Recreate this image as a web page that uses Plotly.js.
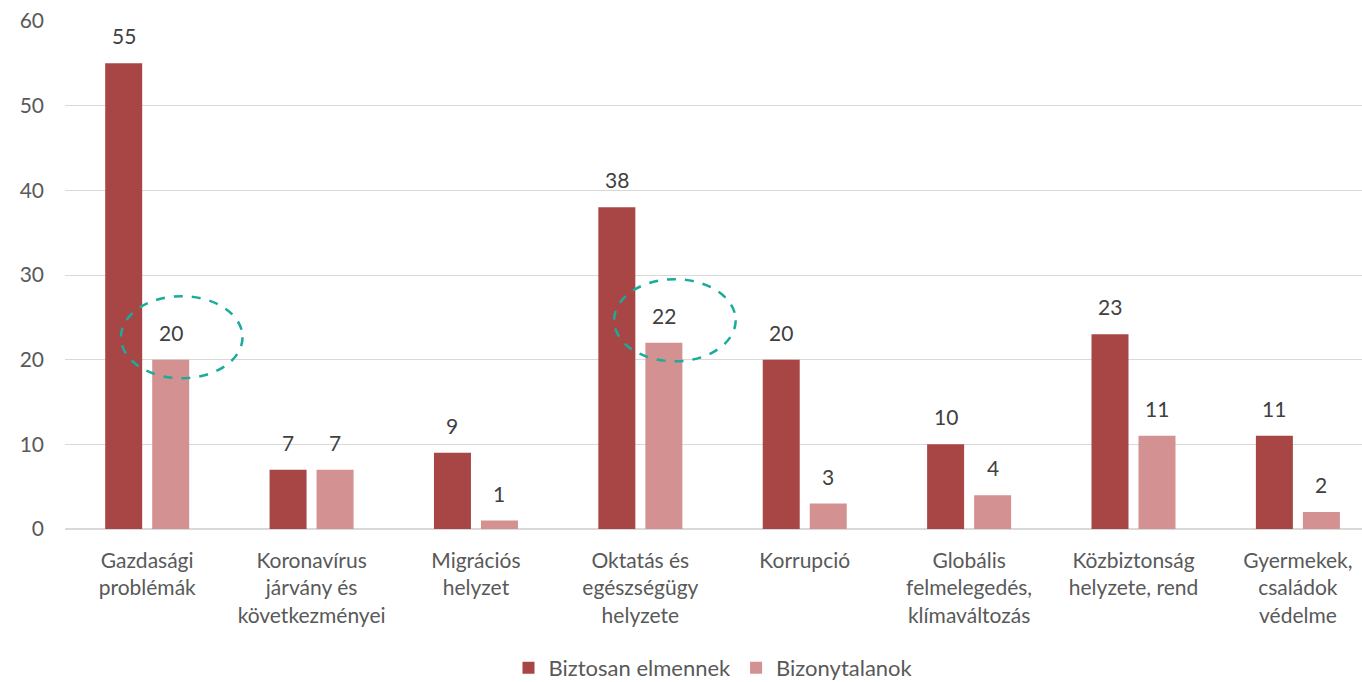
<!DOCTYPE html>
<html>
<head>
<meta charset="utf-8">
<script src="https://cdn.plot.ly/plotly-3.0.1.min.js"></script>
<style>html,body{margin:0;padding:0;background:#fff;}#chart{width:1362px;height:682px;}</style>
</head>
<body>
<div id="chart"></div>
<script>
var categories = [
  "Gazdasági<br>problémák",
  "Koronavírus<br>járvány és<br>következményei",
  "Migrációs<br>helyzet",
  "Oktatás és<br>egészségügy<br>helyzete",
  "Korrupció",
  "Globális<br>felmelegedés,<br>klímaváltozás",
  "Közbiztonság<br>helyzete, rend",
  "Gyermekek,<br>családok<br>védelme"
];
var seriesNames = ["Biztosan elmennek", "Bizonytalanok"];
var biztosan = [55, 7, 9, 38, 20, 10, 23, 11];
var bizonytalan = [20, 7, 1, 22, 3, 4, 11, 2];
var yTicks = [0, 10, 20, 30, 40, 50, 60];
var highlighted = [0, 3];

var FONT = "Lato, 'Open Sans', sans-serif";
var idx = categories.map(function(_, i){ return i; });

var traces = [
  {type: "bar", name: seriesNames[0], x: idx, y: biztosan,
   marker: {color: "#A84646"}, hoverinfo: "y"},
  {type: "bar", name: seriesNames[1], x: idx, y: bizonytalan,
   marker: {color: "#D39191"}, hoverinfo: "y"}
];

var off = 0.143;
var annotations = [];
biztosan.forEach(function(v, i){
  annotations.push({x: i - off, y: v, xref: "x", yref: "y", text: String(v),
    showarrow: false, yanchor: "bottom", yshift: 13,
    font: {family: FONT, size: 21, color: "#404040"}});
});
bizonytalan.forEach(function(v, i){
  annotations.push({x: i + off, y: v, xref: "x", yref: "y", text: String(v),
    showarrow: false, yanchor: "bottom", yshift: 13,
    font: {family: FONT, size: 21, color: "#404040"}});
});

var shapes = [];
highlighted.forEach(function(i){
  var v = bizonytalan[i];
  shapes.push({type: "circle", xref: "x", yref: "y",
    x0: i - 0.16, x1: i + 0.58, y0: v - 2.2, y1: v + 7.5,
    line: {color: "#1AAB9B", width: 2.5, dash: "dash"}});
});

var layout = {
  width: 1362, height: 682,
  margin: {l: 65, r: 0, t: 21, b: 153},
  paper_bgcolor: "#fff", plot_bgcolor: "#fff",
  barmode: "group", bargap: 0.428, bargroupgap: 0.213,
  font: {family: FONT, size: 21, color: "#595959"},
  xaxis: {
    tickmode: "array", tickvals: idx, ticktext: categories,
    range: [-0.5, 7.39], showgrid: false, zeroline: false, automargin: false,
    showline: false, ticks: "", ticklabelstandoff: 17,
    tickfont: {family: FONT, size: 21, color: "#595959"}
  },
  yaxis: {
    range: [0, 60], tickmode: "array", tickvals: yTicks, automargin: false,
    showgrid: true, gridcolor: "#D9D9D9", gridwidth: 1,
    zeroline: true, zerolinecolor: "#D9D9D9", zerolinewidth: 1.5,
    showline: false, ticks: "", ticklabelstandoff: 20,
    tickfont: {family: FONT, size: 21, color: "#595959"}
  },
  legend: {orientation: "h", xref: "paper", x: 0.5, xanchor: "center",
    yref: "container", y: 0.0205, yanchor: "middle",
    font: {family: FONT, size: 22, color: "#595959"}, itemwidth: 30, tracegroupgap: 0},
  showlegend: true,
  annotations: annotations,
  shapes: shapes
};

Plotly.newPlot("chart", traces, layout, {displayModeBar: false, staticPlot: true});
</script>
</body>
</html>
